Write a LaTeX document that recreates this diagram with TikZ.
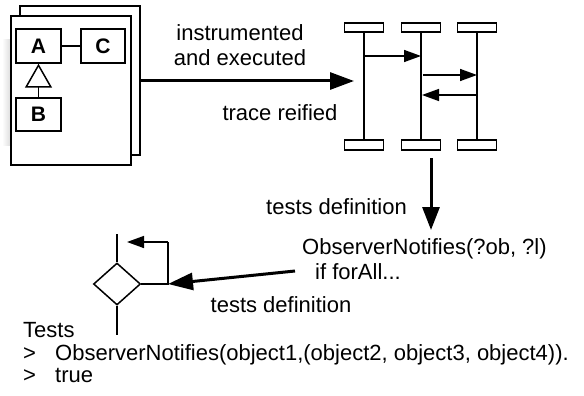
\documentclass[tikz,border=0pt]{standalone}
\usepackage{fontspec}
\setmainfont{Liberation Sans}
\usetikzlibrary{arrows.meta,shapes.geometric,calc}
\begin{document}
\begin{tikzpicture}[x=1pt,y=-1pt,
  txt/.style={font=\fontsize{22}{25}\selectfont, inner sep=0pt, align=center},
  page/.style={draw, line width=1.5pt, fill=white, minimum width=120pt, minimum height=149pt, inner sep=0pt},
  cls/.style={draw, line width=1.5pt, minimum width=45pt, minimum height=34pt, inner sep=0pt, font=\fontsize{21}{21}\selectfont\bfseries},
  obj/.style={draw, line width=1.5pt, minimum width=39pt, minimum height=9pt, inner sep=0pt},
  life/.style={line width=1.5pt},
  msg/.style={line width=1.5pt, -{Triangle[length=17pt,width=12pt]}},
  big/.style={line width=3pt, -{Triangle[length=24pt,width=17pt]}},
  thin/.style={line width=1.5pt},
]
\useasboundingbox (0,0) rectangle (584,396);

% shadow and pages
\shade[left color=white, right color=black!14] (2,40) rectangle (11,145);
\node[page] (back) at (80,80.5) {};
\node[page] (front) at (71,90.5) {};

% class diagram
\node[cls] (A) at (38.5,46) {A};
\node[cls, minimum width=44pt] (C) at (103,46) {C};
\node[cls, minimum height=33pt] (B) at (38.5,114.5) {B};
\draw[thin] (A) -- (C);
\draw[thin, -{Triangle[open,length=24pt,width=27pt,line width=1.5pt]}] (B) -- (A);

% sequence diagram
\node[obj] (t1) at (364,27.5) {};
\node[obj] (t2) at (421,27.5) {};
\node[obj] (t3) at (477,27.5) {};
\node[obj, minimum height=10pt] (b1) at (364,145) {};
\node[obj, minimum height=10pt] (b2) at (421,145) {};
\node[obj, minimum height=10pt] (b3) at (477,145) {};
\draw[life] (t1) -- (b1);
\draw[life] (t2) -- (b2);
\draw[life] (t3) -- (b3);
\draw[msg] (t1.south |- 0,56) -- (t2.south |- 0,56);
\draw[msg] ($(t2.south |- 0,75)+(2,0)$) -- (t3.south |- 0,75);
\draw[msg] (t3.south |- 0,95) -- ($(t2.south |- 0,95)+(1,0)$);

% big arrow to trace
\coordinate (seqin) at (354,81);
\draw[big] (back.east |- 0,81) -- (seqin);
\node[txt, anchor=base] (lab1) at (240,41) {instrumented};
\node[txt, anchor=base] (lab1b) at (240,66) {and executed};
\node[txt, anchor=base] (lab2) at (280,121) {trace reified};

% down arrow
\coordinate (dstart) at (431,158);
\coordinate (dend) at (431,230);
\draw[line width=3pt, -{Triangle[length=23pt,width=17pt]}] (dstart) -- (dend);
\node[txt, anchor=base] (lab3) at (336.5,214) {tests definition};
\node[txt, anchor=base west] (obs) at (302,254) {ObserverNotifies(?ob, ?l)};
\node[txt, anchor=base west] (ifa) at (315,279) {if forAll...};

% activity fragment
\node[draw, diamond, line width=1.5pt, minimum width=47pt, minimum height=42pt, aspect=1.12, inner sep=0pt] (dia) at (117,284) {};
\coordinate (dtop) at (117,234);
\coordinate (dbot) at (117,335);
\coordinate (lc) at (168,284);
\coordinate (lu) at (168,242);
\coordinate (lt) at (127,242);
\draw[thin] (dtop) -- (dia.north);
\draw[thin] (dia.south) -- (dbot);
\draw[thin] (dia.east) -- (lc) -- (lu);
\draw[msg] (lu) -- (lt);

\coordinate (astart) at (295,271);
\draw[big, -{Triangle[length=25pt,width=17pt]}] (astart) -- (lc);
\node[txt, anchor=base] (lab4) at (281,312) {tests definition};

% tests text
\node[txt, anchor=base west] (tests) at (23,337) {Tests};
\node[txt, anchor=base west] (g1) at (23,360) {>};
\node[txt, anchor=base west] (l1) at (55,360) {ObserverNotifies(object1,(object2, object3, object4)).};
\node[txt, anchor=base west] (g2) at (23,382) {>};
\node[txt, anchor=base west] (l2) at (55,382) {true};
\end{tikzpicture}
\end{document}
